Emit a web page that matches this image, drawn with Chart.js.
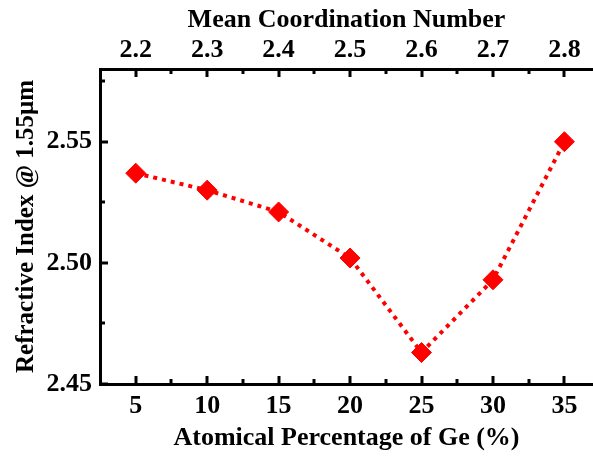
<!DOCTYPE html>
<html>
<head>
<meta charset="utf-8">
<script src="https://cdn.jsdelivr.net/npm/chart.js@4"></script>
<style>
  html,body{margin:0;padding:0;background:#fff;}
  #wrap{width:593px;height:459px;position:relative;}
</style>
</head>
<body>
<div id="wrap"><canvas id="c" width="593" height="459"></canvas></div>
<script>
// data
const geAtomic = [5, 10, 15, 20, 25, 30, 35];
const refIndex = [2.537, 2.530, 2.521, 2.502, 2.463, 2.493, 2.550];

// tick labels
const geTicks = [5, 10, 15, 20, 25, 30, 35];
const geMinor = [7.5, 12.5, 17.5, 22.5, 27.5, 32.5];
const coordTicks = [2.2, 2.3, 2.4, 2.5, 2.6, 2.7, 2.8];
const coordMinor = [2.25, 2.35, 2.45, 2.55, 2.65, 2.75];
const indexTicks = [2.45, 2.50, 2.55];
const indexMinor = [2.475, 2.525, 2.575];

const FONT = 'Liberation Serif, Times New Roman, serif';

// inward tick marks like the original plot
const inTicks = {
  id: 'inTicks',
  afterDatasetsDraw(chart){
    const ctx = chart.ctx, a = chart.chartArea, s = chart.scales;
    ctx.save(); ctx.strokeStyle = '#000'; ctx.lineWidth = 3;
    const hx = (sc, vals, y, len) => vals.forEach(v=>{ const x = Math.round(sc.getPixelForValue(v)); ctx.beginPath(); ctx.moveTo(x, y); ctx.lineTo(x, y+len); ctx.stroke(); });
    const vy = (sc, vals, len) => vals.forEach(v=>{ const y = Math.round(sc.getPixelForValue(v)); ctx.beginPath(); ctx.moveTo(a.left, y); ctx.lineTo(a.left+len, y); ctx.stroke(); });
    hx(s.x, geTicks, a.bottom, -8); hx(s.x, geMinor, a.bottom, -5);
    hx(s.x2, coordTicks, a.top, 8); hx(s.x2, coordMinor, a.top, 5);
    vy(s.y, indexTicks, 8); vy(s.y, indexMinor, 5);
    ctx.restore();
  }
};

const setTicks = vals => sc => { sc.ticks = vals.map(v=>({value:v})); };
const fitX = h => sc => { sc.height = h; sc.paddingLeft = 0; sc.paddingRight = 0; };

new Chart(document.getElementById('c'), {
  type: 'line',
  data: {
    datasets: [{
      data: geAtomic.map((x,i)=>({x, y: refIndex[i]})),
      xAxisID: 'x', yAxisID: 'y',
      borderColor: '#ff0000', backgroundColor: '#ff0000',
      borderWidth: 4, borderDash: [4,5], tension: 0,
      pointStyle: 'rectRot', pointRadius: 10, pointBorderWidth: 1,
      pointBorderColor: '#ff0000', pointBackgroundColor: '#ff0000'
    }]
  },
  options: {
    responsive: false, animation: false,
    layout: {padding: 0, autoPadding: false},
    plugins: {legend: {display: false}, tooltip: {enabled: false}},
    scales: {
      x: {
        type: 'linear', position: 'bottom', min: 2.5, max: 37,
        afterBuildTicks: setTicks(geTicks),
        afterFit: fitX(75),
        grid: {display: false, drawTicks: false},
        border: {display: true, color: '#000', width: 3},
        ticks: {color: '#000', padding: 7, font: {family: FONT, size: 26, weight: 'bold'}},
        title: {display: true, text: 'Atomical Percentage of Ge (%)', color: '#000', padding: {top: 0, bottom: 5}, font: {family: FONT, size: 26, weight: 'bold'}}
      },
      x2: {
        type: 'linear', position: 'top', min: 2.15, max: 2.84,
        afterBuildTicks: setTicks(coordTicks),
        afterFit: fitX(69),
        grid: {display: false, drawTicks: false},
        border: {display: true, color: '#000', width: 3},
        ticks: {color: '#000', padding: 3, font: {family: FONT, size: 26, weight: 'bold'}, callback: v => v.toFixed(1)},
        title: {display: true, text: 'Mean Coordination Number', color: '#000', padding: {top: 5, bottom: 0}, font: {family: FONT, size: 26, weight: 'bold'}}
      },
      y: {
        type: 'linear', position: 'left', min: 2.45, max: 2.58,
        afterBuildTicks: setTicks(indexTicks),
        afterFit: sc => { sc.width = 100; },
        grid: {display: false, drawTicks: false},
        border: {display: true, color: '#000', width: 3},
        ticks: {color: '#000', padding: 8, font: {family: FONT, size: 26, weight: 'bold'}, callback: v => v.toFixed(2)},
        title: {display: true, text: 'Refractive Index @ 1.55μm', color: '#000', padding: {top: 12, bottom: 0}, font: {family: FONT, size: 25, weight: 'bold'}}
      }
    }
  },
  plugins: [inTicks]
});
</script>
</body>
</html>
